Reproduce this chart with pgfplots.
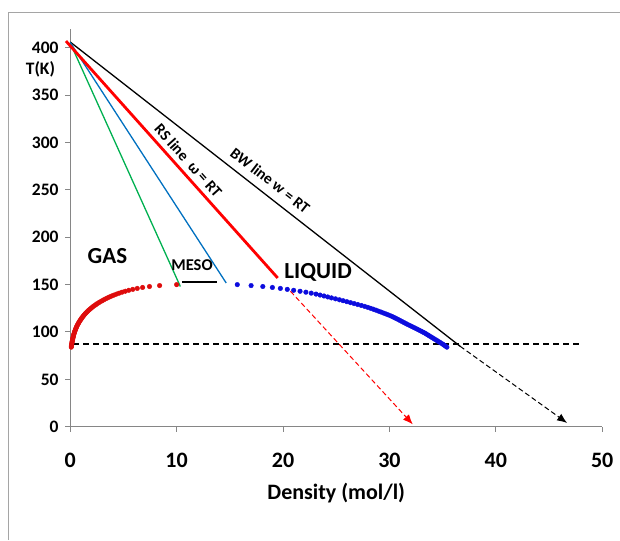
\documentclass[border=0pt]{standalone}
\usepackage{fontspec}
\setmainfont{Carlito}
\usepackage{pgfplots}
\usepackage{pgfplotstable}
\pgfplotsset{compat=1.18}
\usetikzlibrary{arrows.meta}
\definecolor{axgray}{RGB}{134,134,134}
\definecolor{framegray}{RGB}{165,165,165}
\definecolor{gasred}{RGB}{222,12,12}
\definecolor{liqblue}{RGB}{12,12,222}
\definecolor{lnblue}{RGB}{0,112,192}
\definecolor{lngreen}{RGB}{0,176,80}

% saturated vapour branch: T (K), density (mol/l)
\pgfplotstableread{
T rho
84 0.10
85 0.11
86 0.12
87 0.14
88 0.15
89 0.17
90 0.18
91 0.20
92 0.22
93 0.24
94 0.26
95 0.28
96 0.30
97 0.33
98 0.35
99 0.38
100 0.41
101 0.44
102 0.47
103 0.51
104 0.54
105 0.58
106 0.62
107 0.66
108 0.71
109 0.76
110 0.81
111 0.86
112 0.92
113 0.98
114 1.04
115 1.10
116 1.17
117 1.24
118 1.31
119 1.39
120 1.47
121 1.56
122 1.65
123 1.74
124 1.84
125 1.95
126 2.06
127 2.17
128 2.29
129 2.42
130 2.55
131 2.69
132 2.84
133 3.00
134 3.16
135 3.33
136 3.51
137 3.70
138 3.90
139 4.12
140 4.35
141 4.60
142 4.87
143 5.17
144 5.50
145 5.88
146 6.30
147 6.80
148 7.45
149 8.40
150 10.00
}\gasdata

% saturated liquid branch
\pgfplotstableread{
T rho
84 35.40
85 35.28
86 35.16
87 35.03
88 34.89
89 34.75
90 34.60
91 34.46
92 34.32
93 34.17
94 34.03
95 33.88
96 33.74
97 33.59
98 33.45
99 33.30
100 33.13
101 32.96
102 32.78
103 32.61
104 32.43
105 32.25
106 32.07
107 31.89
108 31.70
109 31.53
110 31.36
111 31.19
112 31.02
113 30.85
114 30.68
115 30.50
116 30.32
117 30.12
118 29.90
119 29.68
120 29.45
121 29.22
122 28.98
123 28.74
124 28.50
125 28.24
126 27.97
127 27.68
128 27.36
129 27.02
130 26.68
131 26.34
132 26.00
133 25.65
134 25.30
135 24.93
136 24.55
137 24.20
138 23.85
139 23.48
140 23.10
141 22.65
142 22.15
143 21.60
144 21.00
145 20.40
146 19.75
147 19.00
148 18.10
149 17.00
150 15.70
}\liqdata

\newcommand{\fs}[1]{\fontsize{#1}{#1}\selectfont\bfseries}

\begin{document}
\begin{tikzpicture}[x=1pt,y=1pt]
\useasboundingbox (0,0) rectangle (620,540);
\draw[framegray, line width=1.2pt] (8.7,0) -- (8.7,527.8) -- (620,527.8);
\begin{axis}[
  at={(66,119.5)}, anchor=south west,
  scale only axis, width=532pt, height=398pt,
  xmin=0, xmax=50, ymin=0, ymax=420,
  axis x line=bottom, axis y line=left,
  axis line style={draw=axgray, line width=1pt, -},
  xtick={0,10,...,50}, ytick={0,50,...,400},
  tick align=outside, major tick length=5pt,
  tick style={axgray, line width=1pt},
  /pgf/number format/assume math mode=true,
  xticklabel style={font=\fs{22}, anchor=base, yshift=-35.5pt},
  yticklabel style={font=\fs{17.5}, anchor=east, inner sep=0pt, xshift=-6.5pt},
  xlabel={Density (mol/l)},
  xlabel style={font=\fs{22}, at={(axis description cs:0.5,0)}, anchor=base, yshift=-72.5pt},
  clip=false,
]
  % guide lines from the common origin
  \addplot[black, line width=1.3pt] coordinates {(0,406) (36.65,84.9)};
  \addplot[black, line width=1pt, dash pattern=on 5pt off 3pt,
           -{Latex[length=10pt,width=8pt]}] coordinates {(36.65,84.9) (46.7,4)};
  \addplot[lngreen, line width=1.3pt] coordinates {(0,405) (10.35,148)};
  \addplot[lnblue, line width=1.3pt] coordinates {(0,405.5) (14.66,151.7)};
  \addplot[red, line width=2.8pt] coordinates {(-0.4,407) (19.5,157)};
  \addplot[red, line width=1pt, dash pattern=on 5pt off 3pt,
           -{Latex[length=10pt,width=8pt]}] coordinates {(20.7,143) (32.2,2.5)};
  \addplot[black, line width=1.8pt, dash pattern=on 6pt off 4pt] coordinates {(0.3,87.5) (48.2,87.5)};
  \addplot[black, line width=1.6pt] coordinates {(10.5,152.7) (13.8,152.7)};

  % coexistence curve
  \addplot[only marks, mark=*, mark size=2.3pt, color=gasred] table[x=rho, y=T] {\gasdata};
  \addplot[only marks, mark=*, mark size=2.3pt, color=liqblue] table[x=rho, y=T] {\liqdata};

  \node[font=\fs{17.5}] at (axis cs:-2.8,377) {T(K)};
  \node[font=\fs{23}] at (axis cs:3.5,180) {GAS};
  \node[font=\fs{16.5}] at (axis cs:11.45,170.6) {MESO};
  \node[font=\fs{23}] at (axis cs:23.3,162.6) {LIQUID};
  \node[font=\fs{15.5}, rotate=-48.1] at (axis cs:11.1,281) {RS line\ \ ω = RT};
  \node[font=\fs{15.5}, rotate=-37.9] at (axis cs:18.8,260) {BW line w = RT};
\end{axis}
\end{tikzpicture}
\end{document}
